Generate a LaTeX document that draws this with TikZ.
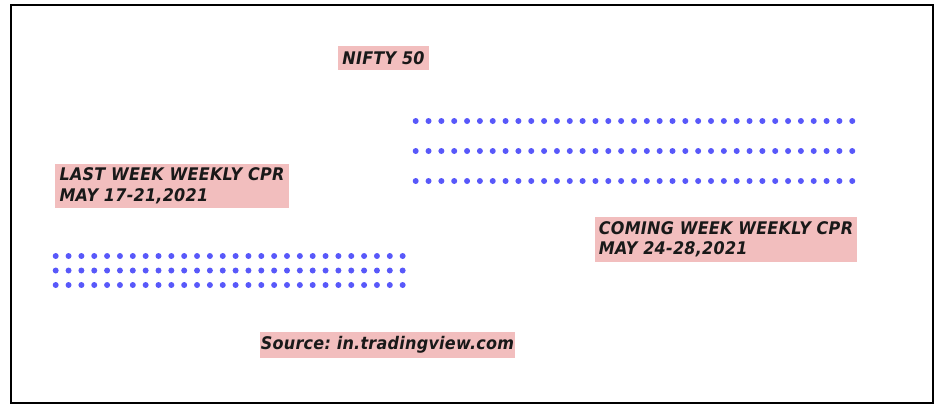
\documentclass[tikz,border=0pt]{standalone}
\usepackage{fontspec}
\setmainfont{DejaVu Sans}[FakeStretch=0.92,LetterSpace=1.5]
\frenchspacing
\definecolor{tagpink}{RGB}{242,190,190}
\definecolor{dotblue}{RGB}{88,88,250}
\definecolor{tagtext}{RGB}{25,25,25}
\begin{document}
\begin{tikzpicture}[x=1pt,y=-1pt,
  tag/.style={fill=tagpink, inner xsep=0pt, inner ysep=0pt, align=left,
    text=tagtext, font=\fontsize{17.4}{20.5}\selectfont\bfseries\itshape},
  dot/.style={fill=dotblue}]
  \useasboundingbox (0,0) rectangle (935,405);
  % outer frame
  \draw[line width=2pt] (11,5) rectangle (933,403);

  % labels
  \node[tag, minimum width=91pt, minimum height=24pt] (nifty) at (383.5,58) {NIFTY 50};
  \node[tag, minimum width=234pt, minimum height=44pt] (last) at (172,186) {LAST WEEK WEEKLY CPR\\MAY 17-21,2021};
  \node[tag, minimum width=262pt, minimum height=45pt] (coming) at (726,239.5) {COMING WEEK WEEKLY CPR\\MAY 24-28,2021};
  \node[tag, minimum width=255pt, minimum height=26pt] (source) at (387.5,345) {Source: in.tradingview.com};

  % dotted CPR levels, coming week
  \foreach \yy in {121,151,181}
    \foreach \i in {0,...,34}
      \fill[dot] ({415.7+12.84*\i},\yy) circle (3pt);
  % dotted CPR levels, last week
  \foreach \yy in {256,270.5,285}
    \foreach \i in {0,...,27}
      \fill[dot] ({55.7+12.85*\i},\yy) circle (3pt);
\end{tikzpicture}
\end{document}
